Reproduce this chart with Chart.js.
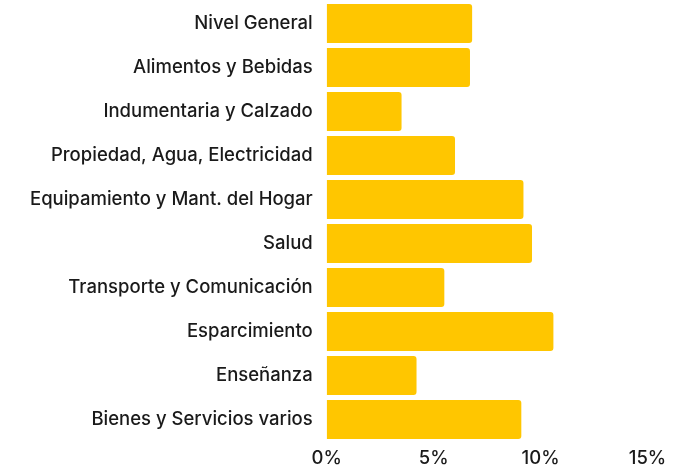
<!DOCTYPE html>
<html>
<head>
<meta charset="utf-8">
<script src="https://cdn.jsdelivr.net/npm/chart.js@4"></script>
<style>
  html, body { margin: 0; padding: 0; background: #fff; }
  #wrap { width: 680px; height: 468px; position: relative; }
</style>
</head>
<body>
<div id="wrap"><canvas id="inflacionChart"></canvas></div>
<script>
  // categorias y variacion (%)
  const categorias = [
    'Nivel General',
    'Alimentos y Bebidas',
    'Indumentaria y Calzado',
    'Propiedad, Agua, Electricidad',
    'Equipamiento y Mant. del Hogar',
    'Salud',
    'Transporte y Comunicación',
    'Esparcimiento',
    'Enseñanza',
    'Bienes y Servicios varios'
  ];
  const variacion = [6.8, 6.7, 3.5, 6.0, 9.2, 9.6, 5.5, 10.6, 4.2, 9.1];
  const ticksX = [0, 5, 10, 15];

  const labelFont = { family: 'Inter', size: 18.5, weight: 500 };

  const ctx = document.getElementById('inflacionChart').getContext('2d');
  const chart = new Chart(ctx, {
    type: 'bar',
    data: {
      labels: categorias,
      datasets: [{
        label: 'Variación',
        data: variacion,
        backgroundColor: '#FFC600',
        borderRadius: 3,
        borderSkipped: 'start',
        barPercentage: 0.89,
        categoryPercentage: 1
      }]
    },
    options: {
      indexAxis: 'y',
      responsive: true,
      maintainAspectRatio: false,
      animation: false,
      layout: { padding: { top: 1.5, right: 32.5, bottom: 0, left: 0 } },
      plugins: {
        legend: { display: false },
        tooltip: { enabled: false }
      },
      scales: {
        x: {
          min: ticksX[0],
          max: ticksX[ticksX.length - 1],
          grid: { display: false, drawTicks: false },
          border: { display: false },
          afterBuildTicks: function (scale) {
            scale.ticks = ticksX.map(v => ({ value: v }));
          },
          afterFit: function (scale) {
            scale.height = 26.5;
            scale.paddingLeft = 0;
            scale.paddingRight = 0;
          },
          ticks: {
            padding: 6,
            color: '#1a1a1a',
            maxRotation: 0,
            font: labelFont,
            callback: function (value) { return value + '%'; }
          }
        },
        y: {
          grid: { display: false, drawTicks: false },
          border: { display: false },
          afterFit: function (scale) {
            scale.width = 326.7;
            scale.paddingTop = 0;
            scale.paddingBottom = 0;
          },
          ticks: {
            padding: 14,
            color: '#1a1a1a',
            font: labelFont
          }
        }
      }
    }
  });
</script>
</body>
</html>
